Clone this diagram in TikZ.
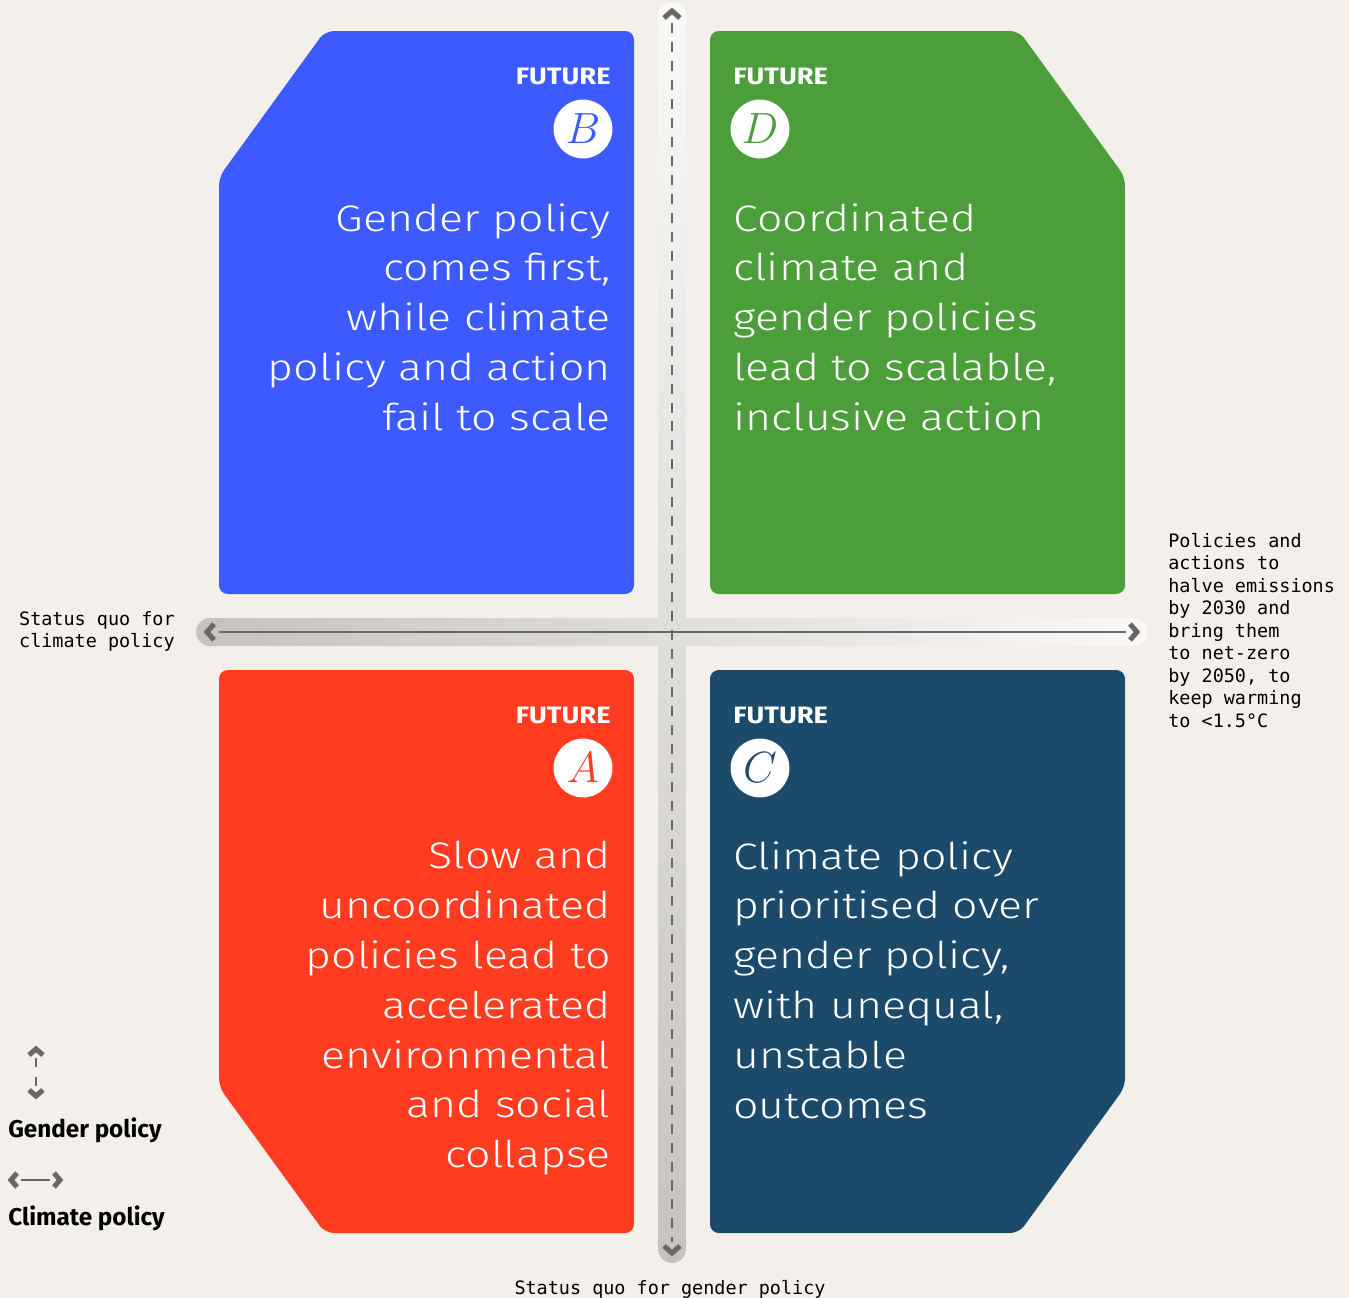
\documentclass[tikz,border=0pt]{standalone}
\usepackage{fontspec}
\setmainfont{Fira Sans}
\newfontfamily\lightsans{Fira Sans Light}[FakeStretch=1.21]
\newfontfamily\headsans{Fira Sans}[FakeStretch=1.15]
\setmonofont{DejaVu Sans Mono}
\usetikzlibrary{positioning}

\definecolor{paper}{HTML}{F3F0EB}
\definecolor{colA}{HTML}{FF3B20}
\definecolor{colB}{HTML}{3D5AFE}
\definecolor{colC}{HTML}{1B4A6B}
\definecolor{colD}{HTML}{4C9E3A}
\definecolor{bargrey}{HTML}{C6C3BE}
\definecolor{barwhite}{HTML}{FAF9F8}
\definecolor{axisline}{HTML}{686868}

\begin{document}
\begin{tikzpicture}[x=0.02cm,y=-0.02cm,
	card/.style={rounded corners=5pt},
	future/.style={font=\headsans\bfseries\fontsize{13.5}{15}\selectfont, text=white, inner sep=0pt},
	letter/.style={circle, fill=white, minimum size=33.5pt, inner sep=0pt, font=\fontsize{26}{26}\selectfont},
	story/.style={font=\lightsans\fontsize{21}{28.35}\selectfont, text=white, inner sep=0pt},
	note/.style={font=\ttfamily\fontsize{10.5}{12.8}\selectfont, inner sep=0pt},
	key/.style={font=\bfseries\fontsize{13.8}{16}\selectfont, inner sep=0pt, anchor=base west},
	chev/.style={draw=axisline, line width=2.9pt, line join=miter},
	axisrule/.style={draw=axisline, line width=1.1pt}]

	% background
	\fill[paper] (0,0) rectangle (1349,1298);
	\useasboundingbox (0,0) rectangle (1349,1298);

	% the four futures
	\fill[colB, card] (325,31) -- (634,31) -- (634,594) -- (219,594) -- (219,177) -- cycle;
	\fill[colD, card] (710,31) -- (1019,31) -- (1125,177) -- (1125,594) -- (710,594) -- cycle;
	\fill[colA, card] (219,670) -- (634,670) -- (634,1233) -- (325,1233) -- (219,1087) -- cycle;
	\fill[colC, card] (710,670) -- (1125,670) -- (1125,1087) -- (1019,1233) -- (710,1233) -- cycle;

	% axes
	\path[left color=bargrey, right color=barwhite, rounded corners=7.9pt] (196,618) rectangle (1147,646);
	\path[top color=barwhite, bottom color=bargrey, rounded corners=7.9pt] (658,2) rectangle (686,1263);

	\coordinate (vtop) at (672,11);
	\coordinate (vbot) at (672,1253);
	\coordinate (hleft) at (207,632);
	\coordinate (hright) at (1137,632);

	\draw[axisrule, dash pattern=on 5.7pt off 5.1pt] (672,23) -- (672,1242);
	\draw[axisrule] (219,632) -- (1126,632);
	\draw[chev] ([shift={(-8,7)}]vtop) -- (vtop) -- ([shift={(8,7)}]vtop);
	\draw[chev] ([shift={(-8,-7)}]vbot) -- (vbot) -- ([shift={(8,-7)}]vbot);
	\draw[chev] ([shift={(7,-8)}]hleft) -- (hleft) -- ([shift={(7,8)}]hleft);
	\draw[chev] ([shift={(-7,-8)}]hright) -- (hright) -- ([shift={(-7,8)}]hright);

	% future B
	\node[future, anchor=base east] (futB) at (611,84) {FUTURE};
	\node[letter] (letB) at (583,129) {$\color{colB}B$};
	\node[story, anchor=north east, align=right] (txtB) at (611,203)
		{Gender policy\\comes first,\\while climate\\policy and action\\fail to scale};

	% future D
	\node[future, anchor=base west] (futD) at (733,84) {FUTURE};
	\node[letter] (letD) at (760,129) {$\color{colD}D$};
	\node[story, anchor=north west, align=left] (txtD) at (733,203)
		{Coordinated\\climate and\\gender policies\\lead to scalable,\\inclusive action};

	% future A
	\node[future, anchor=base east] (futA) at (611,723) {FUTURE};
	\node[letter] (letA) at (583,768) {$\color{colA}A$};
	\node[story, anchor=north east, align=right] (txtA) at (611,841)
		{Slow and\\uncoordinated\\policies lead to\\accelerated\\environmental\\and social\\collapse};

	% future C
	\node[future, anchor=base west] (futC) at (733,723) {FUTURE};
	\node[letter] (letC) at (760,768) {$\color{colC}C$};
	\node[story, anchor=north west, align=left] (txtC) at (733,841)
		{Climate policy\\prioritised over\\gender policy,\\with unequal,\\unstable\\outcomes};

	% axis notes
	\node[note, anchor=north east, align=left] (sqclimate) at (175,611) {Status quo for\\climate policy};
	\node[note, anchor=base] (sqgender) at (670,1294) {Status quo for gender policy};
	\node[note, anchor=north west, align=left] (target) at (1168,533)
		{Policies and\\actions to\\halve emissions\\by 2030 and\\bring them\\to net-zero\\by 2050, to\\keep warming\\to <1.5°C};

	% legend
	\coordinate (kgtop) at (36,1049);
	\coordinate (kgbot) at (36,1096);
	\coordinate (kcleft) at (11,1180);
	\coordinate (kcright) at (60,1180);
	\draw[chev] ([shift={(-7,6)}]kgtop) -- (kgtop) -- ([shift={(7,6)}]kgtop);
	\draw[chev] ([shift={(-7,-6)}]kgbot) -- (kgbot) -- ([shift={(7,-6)}]kgbot);
	\draw[axisrule, dash pattern=on 5pt off 6pt] (36,1058) -- (36,1088);
	\draw[chev] ([shift={(6,-7)}]kcleft) -- (kcleft) -- ([shift={(6,7)}]kcleft);
	\draw[chev] ([shift={(-6,-7)}]kcright) -- (kcright) -- ([shift={(-6,7)}]kcright);
	\draw[axisrule] (21,1180) -- (50,1180);
	\node[key] (kgender) at (8,1137) {Gender policy};
	\node[key] (kclimate) at (8,1225) {Climate policy};
\end{tikzpicture}
\end{document}
